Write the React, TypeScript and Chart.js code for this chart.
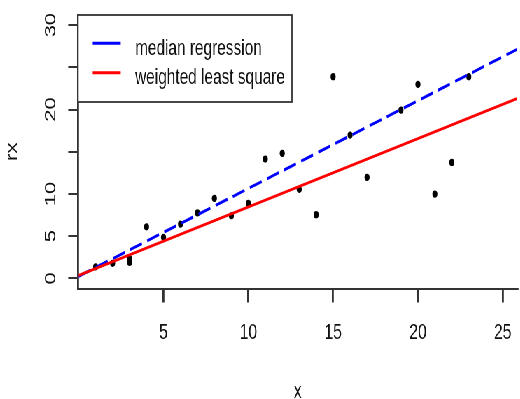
import React, { useEffect, useRef } from "react";
import { Chart, registerables } from "chart.js";

Chart.register(...registerables);

// ---- data ----
const xValues = [1, 2, 3, 3, 4, 5, 6, 7, 8, 9, 10, 11, 12, 13, 14, 15, 16, 17, 19, 20, 21, 22, 23];
const rxValues = [1.37, 1.78, 2.3, 1.9, 6.11, 4.86, 6.43, 7.77, 9.48, 7.42, 8.89, 14.13, 14.81, 10.55, 7.54, 23.89, 16.98, 11.97, 19.94, 22.99, 9.99, 13.74, 23.89];
const lineX = [0, 26];
const medianLine = [0.25, 27.29];
const wlsLine = [0.36, 21.42];
const xTicks = [5, 10, 15, 20, 25];
const yTicks = [0, 5, 10, 15, 20, 25, 30];
const yTickLabels = ["0", "5", "10", "", "20", "", "30"];
const legendLabels = ["median regression", "weighted least square"];
const xTitle = "x";
const yTitle = "rx";

// ---- styles ----
const SX = 0.7; // horizontal squash of the reference
const W = 743;
const H = 399;
const FONT = "'Liberation Sans', Arial, sans-serif";
const AXIS = "#333333";
const TEXT = "#111111";
const BLUE = "#0000ff";
const RED = "#ff0000";

const legendPlugin = {
  id: "rLegend",
  afterDraw(chart: any) {
    const { ctx, chartArea } = chart;
    const left = chartArea.left;
    const top = chartArea.top;
    ctx.save();
    ctx.fillStyle = "#ffffff";
    ctx.fillRect(left, top, 305.6, 87);
    ctx.strokeStyle = AXIS;
    ctx.lineWidth = 1.8;
    ctx.strokeRect(left, top, 305.6, 87);
    const colors = [BLUE, RED];
    const lineYs = [28.3, 57.7];
    const textYs = [40, 68.5];
    ctx.font = `22px ${FONT}`;
    ctx.textBaseline = "alphabetic";
    ctx.textAlign = "left";
    legendLabels.forEach((lab, i) => {
      ctx.strokeStyle = colors[i];
      ctx.lineWidth = 3;
      ctx.beginPath();
      ctx.moveTo(left + 21, top + lineYs[i]);
      ctx.lineTo(left + 61, top + lineYs[i]);
      ctx.stroke();
      ctx.fillStyle = TEXT;
      ctx.fillText(lab, left + 81.5, top + textYs[i]);
    });
    ctx.restore();
  },
};

export default function App() {
  const ref = useRef<HTMLCanvasElement | null>(null);

  useEffect(() => {
    if (!ref.current) return;
    const chart = new Chart(ref.current, {
      type: "scatter",
      data: {
        datasets: [
          {
            label: legendLabels[1],
            data: lineX.map((x, i) => ({ x, y: wlsLine[i] })),
            showLine: true,
            borderColor: RED,
            borderWidth: 3,
            pointRadius: 0,
            clip: 0,
          } as any,
          {
            label: legendLabels[0],
            data: lineX.map((x, i) => ({ x, y: medianLine[i] })),
            showLine: true,
            borderColor: BLUE,
            borderWidth: 3,
            borderDash: [18, 8],
            pointRadius: 0,
            clip: 0,
          } as any,
          {
            label: yTitle,
            data: xValues.map((x, i) => ({ x, y: rxValues[i] })),
            showLine: false,
            pointRadius: 3.6,
            pointBackgroundColor: "#000000",
            pointBorderWidth: 0,
            backgroundColor: "#000000",
          } as any,
        ],
      },
      options: {
        responsive: false,
        animation: false,
        events: [],
        layout: { padding: { left: 0, top: 15, right: 0, bottom: 0 } },
        plugins: {
          legend: { display: false },
          tooltip: { enabled: false },
        },
        scales: {
          x: {
            type: "linear",
            min: -0.04,
            max: 25.86,
            afterBuildTicks: (s: any) => {
              s.ticks = xTicks.map((v) => ({ value: v }));
            },
            afterFit: (s: any) => {
              s.height = 110.5;
              s.paddingLeft = 0;
              s.paddingRight = 0;
            },
            ticks: {
              color: TEXT,
              font: { family: FONT, size: 22.5 },
              padding: 17,
              maxRotation: 0,
              minRotation: 0,
              callback: (v: any) => String(v),
            },
            grid: {
              drawOnChartArea: false,
              drawTicks: true,
              tickLength: 14,
              color: AXIS,
              lineWidth: 2.8,
            },
            border: { display: true, color: AXIS, width: 2 },
            title: {
              display: true,
              text: xTitle,
              color: TEXT,
              font: { family: FONT, size: 22, lineHeight: 1 },
              padding: { top: 0, bottom: -3.5 },
            },
          },
          y: {
            type: "linear",
            min: -1.2,
            max: 31.2,
            afterBuildTicks: (s: any) => {
              s.ticks = yTicks.map((v) => ({ value: v }));
            },
            afterFit: (s: any) => {
              s.width = 111.4;
              s.paddingTop = 0;
              s.paddingBottom = 0;
            },
            ticks: {
              color: TEXT,
              font: { family: FONT, size: 22 },
              padding: 12.5,
              minRotation: 90,
              maxRotation: 90,
              crossAlign: "center",
              callback: (_v: any, i: number) => yTickLabels[i],
            },
            grid: {
              drawOnChartArea: false,
              drawTicks: true,
              tickLength: 14,
              color: AXIS,
              lineWidth: 2,
            },
            border: { display: true, color: AXIS, width: 2.8 },
            title: {
              display: true,
              text: yTitle,
              color: TEXT,
              font: { family: FONT, size: 22, lineHeight: 1 },
              padding: { top: 7.2, bottom: 0 },
            },
          },
        },
      } as any,
      plugins: [legendPlugin],
    });
    return () => chart.destroy();
  }, []);

  return (
    <div
      style={{
        position: "absolute",
        left: 0,
        top: 0,
        width: W,
        height: H,
        transform: `scaleX(${SX})`,
        transformOrigin: "0 0",
        background: "#ffffff",
      }}
    >
      <canvas ref={ref} width={W} height={H} style={{ width: W, height: H }} />
    </div>
  );
}
